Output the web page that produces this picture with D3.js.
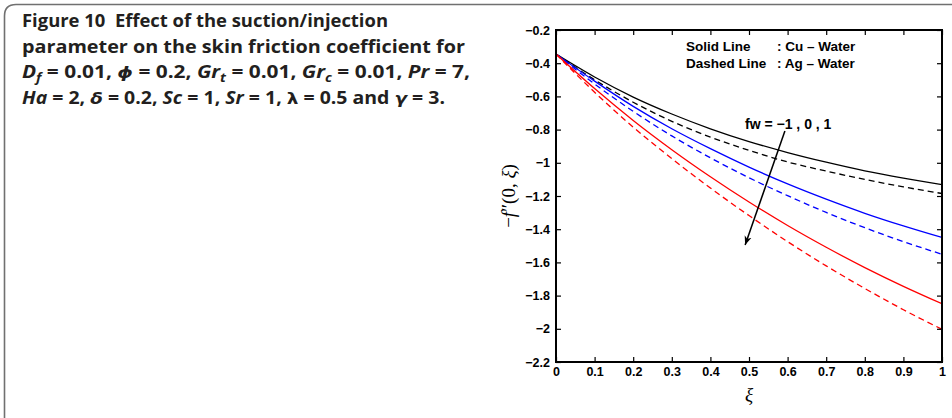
<!DOCTYPE html>
<html>
<head>
<meta charset="utf-8">
<script src="https://cdn.jsdelivr.net/npm/d3@7"></script>
<style>
  html, body { margin: 0; padding: 0; background: #fff; }
  svg { display: block; }
  text { white-space: pre; }
</style>
</head>
<body>
<svg id="chart" width="952" height="418"></svg>
<script>
// ---------------- data ----------------
const xi = [0, 0.1, 0.2, 0.3, 0.4, 0.5, 0.6, 0.7, 0.8, 0.9, 1.0];
const cuFwMinus1 = [-0.345, -0.483, -0.604, -0.706, -0.795, -0.872, -0.938, -0.996, -1.048, -1.092, -1.131];
const agFwMinus1 = [-0.345, -0.500, -0.635, -0.750, -0.845, -0.925, -0.995, -1.050, -1.100, -1.145, -1.185];
const cuFw0      = [-0.345, -0.508, -0.660, -0.795, -0.915, -1.026, -1.127, -1.219, -1.304, -1.380, -1.450];
const agFw0      = [-0.345, -0.525, -0.690, -0.838, -0.970, -1.090, -1.198, -1.299, -1.391, -1.475, -1.551];
const cuFw1      = [-0.345, -0.553, -0.745, -0.921, -1.084, -1.236, -1.378, -1.509, -1.631, -1.744, -1.849];
const agFw1      = [-0.345, -0.575, -0.785, -0.975, -1.152, -1.318, -1.475, -1.621, -1.757, -1.885, -2.003];

const seriesNames  = ["Cu fw=-1", "Ag fw=-1", "Cu fw=0", "Ag fw=0", "Cu fw=1", "Ag fw=1"];
const seriesValues = [cuFwMinus1, agFwMinus1, cuFw0, agFw0, cuFw1, agFw1];
const seriesColors = ["#000000", "#000000", "#0000ff", "#0000ff", "#ff0000", "#ff0000"];
const seriesDashed = [false, true, false, true, false, true];

const xTicks = [0, 0.1, 0.2, 0.3, 0.4, 0.5, 0.6, 0.7, 0.8, 0.9, 1];
const xTickLabels = ["0", "0.1", "0.2", "0.3", "0.4", "0.5", "0.6", "0.7", "0.8", "0.9", "1"];
const yTicks = [-2.2, -2, -1.8, -1.6, -1.4, -1.2, -1, -0.8, -0.6, -0.4, -0.2];
const yTickLabels = ["\u22122.2", "\u22122", "\u22121.8", "\u22121.6", "\u22121.4", "\u22121.2", "\u22121", "\u22120.8", "\u22120.6", "\u22120.4", "\u22120.2"];

const legendLines = [["Solid Line", ": Cu \u2013 Water"], ["Dashed Line", ": Ag \u2013 Water"]];
const fwLabel = "fw = \u22121 , 0 , 1";
const arrowFrom = [0.593, -0.808];
const arrowTo = [0.490, -1.495];

// ---------------- drawing ----------------
const svg = d3.select("#chart");
const W = 952, H = 418;
const plot = { left: 556, right: 942, top: 30, bottom: 362 };

// frame
svg.append("path")
  .attr("d", `M4.5,${H + 20} L4.5,16 Q4.5,4.5 16,4.5 L${W + 20},4.5`)
  .attr("fill", "none").attr("stroke", "#707070").attr("stroke-width", 1.6);

// caption
const capFont = "'Open Sans', 'Noto Sans', sans-serif";
const greekFont = "'DejaVu Sans', 'Noto Sans', sans-serif";
const cap = svg.append("g").attr("font-family", capFont)
  .attr("font-weight", 700).attr("font-size", 17.5).attr("fill", "#231f20");
const capLines = [
  { y: 27, w: 366, parts: [["Figure 10  Effect of the suction/injection"]] },
  { y: 52.5, w: 443, parts: [["parameter on the skin friction coefficient for"]] },
  { y: 78, w: 448, parts: [["D", "i"], ["f", "is"], [" = 0.01, "], ["\u03d5", "ig"], [" = 0.2, "], ["Gr", "i"], ["t", "is"], [" = 0.01, "], ["Gr", "i"], ["c", "is"], [" = 0.01, "], ["Pr", "i"], [" = 7,"]] },
  { y: 103.5, w: 423, parts: [["Ha", "i"], [" = 2, "], ["\u03b4", "ig"], [" = 0.2, "], ["Sc", "i"], [" = 1, "], ["Sr", "i"], [" = 1, "], ["\u03bb", "g"], [" = 0.5 and "], ["\u03b3", "ig"], [" = 3."]] }
];
capLines.forEach(l => {
  const t = cap.append("text").attr("x", 22).attr("y", l.y)
    .attr("textLength", l.w).attr("lengthAdjust", "spacingAndGlyphs");
  let sub = false;
  l.parts.forEach(p => {
    const ts = t.append("tspan").text(p[0]);
    const st = p[1] || "";
    if (st.includes("i")) ts.attr("font-style", "italic");
    if (st.includes("g")) ts.attr("font-family", greekFont).attr("font-size", 16.5);
    if (st.includes("s")) { ts.attr("font-size", 12).attr("dy", 4); sub = true; }
    else if (sub) { ts.attr("dy", -4); sub = false; }
  });
});

// scales
const x = d3.scaleLinear().domain([0, 1]).range([plot.left, plot.right]);
const y = d3.scaleLinear().domain([-2.2, -0.2]).range([plot.bottom, plot.top]);

// curves
const line = d3.line().x((d, i) => x(xi[i])).y(d => y(d)).curve(d3.curveMonotoneX);
const clip = svg.append("clipPath").attr("id", "clip").append("rect")
  .attr("x", plot.left).attr("y", plot.top).attr("width", plot.right - plot.left).attr("height", plot.bottom - plot.top);
const gc = svg.append("g").attr("clip-path", "url(#clip)");
seriesValues.forEach((vals, k) => {
  gc.append("path").datum(vals)
    .attr("d", line)
    .attr("fill", "none")
    .attr("stroke", seriesColors[k])
    .attr("stroke-width", 1.3)
    .attr("stroke-dasharray", seriesDashed[k] ? "6,4" : null)
    .attr("data-name", seriesNames[k]);
});

// axes (ticks inward on all sides)
const tickLen = 5;
const axFont = "'Liberation Sans', Arial, Helvetica, sans-serif";
const bottomAxis = d3.axisBottom(x).tickValues(xTicks).tickSize(-tickLen).tickPadding(5)
  .tickFormat((d, i) => xTickLabels[i]);
const leftAxis = d3.axisLeft(y).tickValues(yTicks).tickSize(-tickLen).tickPadding(6)
  .tickFormat((d, i) => yTickLabels[i]);
const topAxis = d3.axisTop(x).tickValues(xTicks).tickSize(-tickLen).tickFormat("");
const rightAxis = d3.axisRight(y).tickValues(yTicks).tickSize(-tickLen).tickFormat("");

function styleAxis(g) {
  g.select(".domain").remove();
  g.selectAll(".tick line").attr("stroke", "#000").attr("stroke-width", 1.2);
  g.selectAll(".tick text").attr("font-family", axFont).attr("font-weight", 700)
    .attr("font-size", 12.5).attr("fill", "#000");
}
svg.append("g").attr("transform", `translate(0,${plot.bottom})`).call(bottomAxis).call(styleAxis);
svg.append("g").attr("transform", `translate(${plot.left},0)`).call(leftAxis).call(styleAxis);
svg.append("g").attr("transform", `translate(0,${plot.top})`).call(topAxis).call(styleAxis);
svg.append("g").attr("transform", `translate(${plot.right},0)`).call(rightAxis).call(styleAxis);

// box
svg.append("rect").attr("x", plot.left).attr("y", plot.top)
  .attr("width", plot.right - plot.left).attr("height", plot.bottom - plot.top)
  .attr("fill", "none").attr("stroke", "#000").attr("stroke-width", 2);

// axis labels
svg.append("text").attr("x", (plot.left + plot.right) / 2).attr("y", 401)
  .attr("text-anchor", "middle").attr("font-family", "'Liberation Serif', 'Times New Roman', serif")
  .attr("font-style", "italic").attr("font-size", 19).text("\u03be");

const yl = svg.append("text")
  .attr("transform", `translate(515,${(plot.top + plot.bottom) / 2}) rotate(-90)`)
  .attr("text-anchor", "middle").attr("font-family", "'Liberation Serif', 'Times New Roman', serif")
  .attr("font-size", 19);
yl.append("tspan").text("\u2212");
yl.append("tspan").attr("font-style", "italic").text("f");
yl.append("tspan").text("\u2033(0, ");
yl.append("tspan").attr("font-style", "italic").text("\u03be");
yl.append("tspan").text(")");

// legend text
const lg = svg.append("g").attr("font-family", axFont).attr("font-weight", 700).attr("font-size", 13.5);
legendLines.forEach((l, i) => {
  lg.append("text").attr("x", 686).attr("y", 51 + i * 16.5).text(l[0]);
  lg.append("text").attr("x", 777).attr("y", 51 + i * 16.5).text(l[1]);
});

// fw annotation + arrow
svg.append("text").attr("x", 745).attr("y", 129).attr("font-family", axFont)
  .attr("font-weight", 700).attr("font-size", 14).text(fwLabel);
svg.append("defs").append("marker").attr("id", "ah").attr("viewBox", "0 0 10 10")
  .attr("refX", 10).attr("refY", 5).attr("markerWidth", 9).attr("markerHeight", 9)
  .attr("markerUnits", "userSpaceOnUse").attr("orient", "auto")
  .append("path").attr("d", "M0,1 L10,5 L0,9 L3,5 Z").attr("fill", "#000");
svg.append("line")
  .attr("x1", x(arrowFrom[0])).attr("y1", y(arrowFrom[1]))
  .attr("x2", x(arrowTo[0])).attr("y2", y(arrowTo[1]))
  .attr("stroke", "#000").attr("stroke-width", 1.5).attr("marker-end", "url(#ah)");
</script>
</body>
</html>
